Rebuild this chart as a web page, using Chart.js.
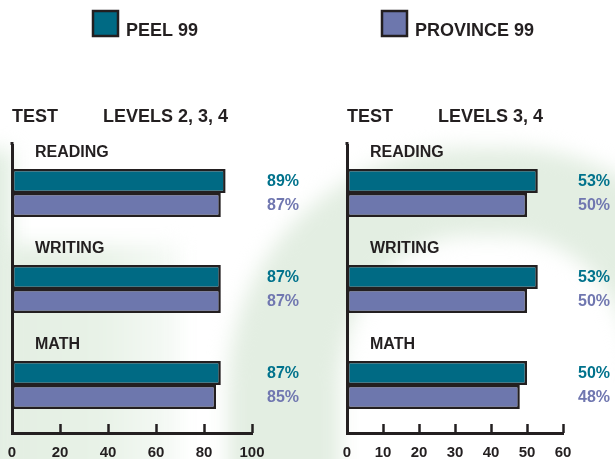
<!DOCTYPE html>
<html>
<head>
<meta charset="utf-8">
<script src="https://cdn.jsdelivr.net/npm/chart.js@4.4.1/dist/chart.umd.min.js"></script>
<style>
  html, body { margin: 0; padding: 0; width: 615px; height: 459px; overflow: hidden; background: #fff; }
  #bg { position: absolute; left: 0; top: 0; width: 615px; height: 459px; overflow: hidden; }
  #bg div { position: absolute; filter: blur(10px); }
  .strip { left: -20px; top: 150px; width: 32px; height: 330px; background: #e0ede0; }
  .blob { left: 0; top: 245px; width: 180px; height: 240px; background: linear-gradient(90deg, #e3eee2 0, #e8f2e7 100px, #f6faf6 175px); }
  .arch {
    left: 228px; top: 148px; width: 520px; height: 560px; box-sizing: border-box;
    border: 112px solid #e3eee2; border-top-width: 88px; border-radius: 240px 240px 0 0;
  }
  .box { position: absolute; top: 0; height: 462px; }
</style>
</head>
<body>
<div id="bg"><div class="strip"></div><div class="blob"></div><div class="arch"></div></div>
<div class="box" style="left:0; width:310px;"><canvas id="levels234"></canvas></div>
<div class="box" style="left:310px; width:305px;"><canvas id="levels34"></canvas></div>

<script>
// EQAO results — Peel vs Province, 1999

const subjects = ['READING', 'WRITING', 'MATH'];
const seriesNames = ['PEEL 99', 'PROVINCE 99'];

// levels 2, 3, 4 (%)
const peel234 = [89, 87, 87];
const prov234 = [87, 87, 85];

// levels 3, 4 (%)
const peel34 = [53, 53, 50];
const prov34 = [50, 50, 48];

const ticks234 = [0, 20, 40, 60, 80, 100];
const ticks34 = [0, 10, 20, 30, 40, 50, 60];

const PEEL = '#006a84';
const PROV = '#6d77ad';
const PEEL_TXT = '#00728c';
const PROV_TXT = '#7077b0';
const INK = '#231f20';
const FONT = '"Liberation Sans", Arial, Helvetica, sans-serif';

// custom drawing: legend swatch, headings, subject labels, values, inward ticks
const decorations = {
  id: 'decorations',
  afterDraw(chart, args, o) {
    const ctx = chart.ctx;
    const area = chart.chartArea;
    const xs = chart.scales.x;
    ctx.save();

    // tick marks pointing up into the plot
    ctx.strokeStyle = INK;
    ctx.lineWidth = 2.5;
    xs.ticks.forEach((t, i) => {
      if (i === 0) return;
      const px = Math.round(xs.getPixelForValue(t.value)) + 0.5;
      ctx.beginPath();
      ctx.moveTo(px, area.bottom);
      ctx.lineTo(px, area.bottom - 9);
      ctx.stroke();
    });

    // y axis runs a little above the first category
    ctx.lineWidth = 3;
    ctx.beginPath();
    ctx.moveTo(area.left, area.top);
    ctx.lineTo(area.left, area.top - 3);
    ctx.stroke();

    // legend item
    const ds = chart.data.datasets[o.legendIndex];
    ctx.fillStyle = ds.backgroundColor;
    ctx.fillRect(o.legendX, 11, 25, 25);
    ctx.lineWidth = 2.5;
    ctx.strokeStyle = INK;
    ctx.strokeRect(o.legendX, 11, 25, 25);
    ctx.fillStyle = INK;
    ctx.font = 'bold 18px ' + FONT;
    ctx.textBaseline = 'alphabetic';
    ctx.textAlign = 'left';
    ctx.fillText(ds.label, o.legendX + 33, 36);

    // headings
    ctx.fillText('TEST', area.left, 122);
    ctx.fillText(o.heading, area.left + 91, 122);

    // subject labels above each pair of bars
    const meta0 = chart.getDatasetMeta(0);
    const meta1 = chart.getDatasetMeta(1);
    ctx.font = 'bold 16px ' + FONT;
    chart.data.labels.forEach((lab, i) => {
      const cy = (meta0.data[i].y + meta1.data[i].y) / 2;
      ctx.fillText(lab, area.left + 23, cy - 36);
    });

    // value labels at the right
    ctx.textAlign = 'right';
    ctx.textBaseline = 'middle';
    [meta0, meta1].forEach((meta, d) => {
      ctx.fillStyle = d === 0 ? PEEL_TXT : PROV_TXT;
      meta.data.forEach((bar, i) => {
        ctx.fillText(chart.data.datasets[d].data[i] + '%', o.valueRight, bar.y + 1);
      });
    });
    ctx.restore();
  }
};

function makeChart(id, peel, prov, tickVals, opts) {
  const c = document.getElementById(id).getContext('2d');
  return new Chart(c, {
    type: 'bar',
    data: {
      labels: subjects,
      datasets: [
        { label: seriesNames[0], data: peel, backgroundColor: PEEL },
        { label: seriesNames[1], data: prov, backgroundColor: PROV },
      ],
    },
    options: {
      indexAxis: 'y',
      responsive: true,
      maintainAspectRatio: false,
      animation: false,
      events: [],
      layout: { padding: { top: 145, left: opts.left, right: opts.right, bottom: 0 } },
      datasets: {
        bar: {
          borderColor: INK,
          borderWidth: 2.5,
          borderSkipped: false,
          categoryPercentage: 0.5,
          barPercentage: 1.0,
        },
      },
      scales: {
        x: {
          min: tickVals[0],
          max: tickVals[tickVals.length - 1],
          afterBuildTicks: s => { s.ticks = tickVals.map(v => ({ value: v })); },
          // tick length only spaces the labels; the marks themselves are drawn upward by the plugin
          grid: { display: false, drawTicks: true, tickLength: 11 },
          border: { display: true, color: INK, width: 3 },
          ticks: { color: INK, padding: 0, font: { family: FONT, size: 15, weight: 'bold' } },
        },
        y: {
          grid: { display: false, drawTicks: false },
          border: { display: true, color: INK, width: 3 },
          ticks: { display: false },
        },
      },
      plugins: {
        legend: { display: false },
        tooltip: { enabled: false },
        decorations: opts.deco,
      },
    },
    plugins: [decorations],
  });
}

makeChart('levels234', peel234, prov234, ticks234, {
  left: 12, right: 58,
  deco: { legendIndex: 0, legendX: 93, heading: 'LEVELS 2, 3, 4', valueRight: 299 },
});

makeChart('levels34', peel34, prov34, ticks34, {
  left: 37, right: 52,
  deco: { legendIndex: 1, legendX: 72, heading: 'LEVELS 3, 4', valueRight: 300 },
});
</script>
</body>
</html>
